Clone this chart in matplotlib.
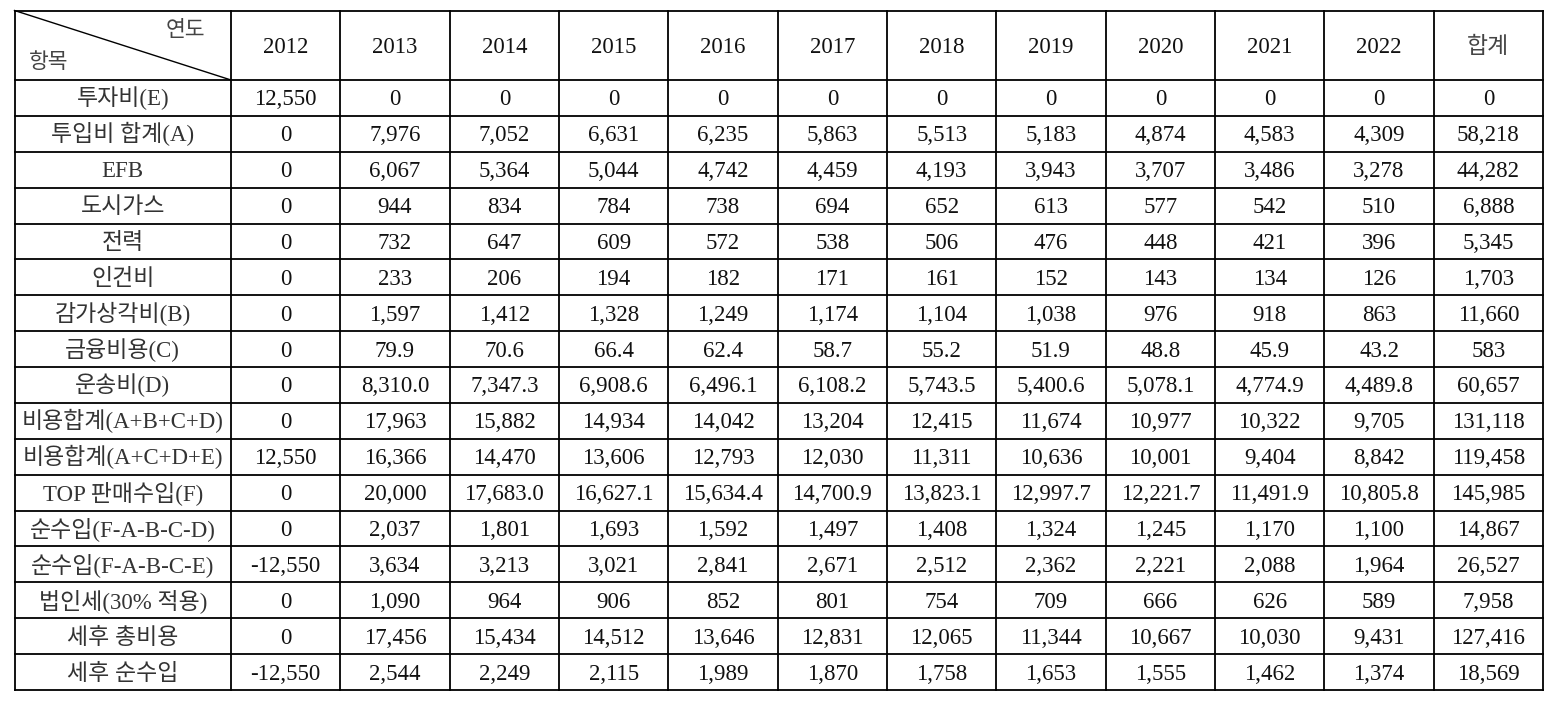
import matplotlib.pyplot as plt

# 연도 / 항목
years = ["2012", "2013", "2014", "2015", "2016", "2017", "2018", "2019",
         "2020", "2021", "2022", "합계"]
items = ["투자비(E)", "투입비 합계(A)", "EFB", "도시가스", "전력", "인건비",
         "감가상각비(B)", "금융비용(C)", "운송비(D)", "비용합계(A+B+C+D)",
         "비용합계(A+C+D+E)", "TOP 판매수입(F)", "순수입(F-A-B-C-D)",
         "순수입(F-A-B-C-E)", "법인세(30% 적용)", "세후 총비용", "세후 순수입"]

invest = ["12,550", "0", "0", "0", "0", "0", "0", "0", "0", "0", "0", "0"]
input_total = ["0", "7,976", "7,052", "6,631", "6,235", "5,863", "5,513", "5,183", "4,874", "4,583", "4,309", "58,218"]
efb = ["0", "6,067", "5,364", "5,044", "4,742", "4,459", "4,193", "3,943", "3,707", "3,486", "3,278", "44,282"]
city_gas = ["0", "944", "834", "784", "738", "694", "652", "613", "577", "542", "510", "6,888"]
power = ["0", "732", "647", "609", "572", "538", "506", "476", "448", "421", "396", "5,345"]
labor = ["0", "233", "206", "194", "182", "171", "161", "152", "143", "134", "126", "1,703"]
depreciation = ["0", "1,597", "1,412", "1,328", "1,249", "1,174", "1,104", "1,038", "976", "918", "863", "11,660"]
finance = ["0", "79.9", "70.6", "66.4", "62.4", "58.7", "55.2", "51.9", "48.8", "45.9", "43.2", "583"]
transport = ["0", "8,310.0", "7,347.3", "6,908.6", "6,496.1", "6,108.2", "5,743.5", "5,400.6", "5,078.1", "4,774.9", "4,489.8", "60,657"]
cost_abcd = ["0", "17,963", "15,882", "14,934", "14,042", "13,204", "12,415", "11,674", "10,977", "10,322", "9,705", "131,118"]
cost_acde = ["12,550", "16,366", "14,470", "13,606", "12,793", "12,030", "11,311", "10,636", "10,001", "9,404", "8,842", "119,458"]
revenue = ["0", "20,000", "17,683.0", "16,627.1", "15,634.4", "14,700.9", "13,823.1", "12,997.7", "12,221.7", "11,491.9", "10,805.8", "145,985"]
net_abcd = ["0", "2,037", "1,801", "1,693", "1,592", "1,497", "1,408", "1,324", "1,245", "1,170", "1,100", "14,867"]
net_abce = ["-12,550", "3,634", "3,213", "3,021", "2,841", "2,671", "2,512", "2,362", "2,221", "2,088", "1,964", "26,527"]
tax = ["0", "1,090", "964", "906", "852", "801", "754", "709", "666", "626", "589", "7,958"]
after_cost = ["0", "17,456", "15,434", "14,512", "13,646", "12,831", "12,065", "11,344", "10,667", "10,030", "9,431", "127,416"]
after_net = ["-12,550", "2,544", "2,249", "2,115", "1,989", "1,870", "1,758", "1,653", "1,555", "1,462", "1,374", "18,569"]

rows = [invest, input_total, efb, city_gas, power, labor, depreciation, finance,
        transport, cost_abcd, cost_acde, revenue, net_abcd, net_abce, tax,
        after_cost, after_net]

# 레이아웃 (픽셀 단위)
W, H = 1554, 702
left, right = 14.5, 1543
top, bottom = 10.5, 690
first_w = 231 - left
header_h = 80 - top
col_w = (right - 231) / len(years)
row_h = (bottom - 80) / len(rows)

fonts = ["Liberation Serif", "Noto Sans CJK KR"]
fs = 16.5
base_off = 7.5  # 셀 중앙에서 기준선까지
lw = 1.3

fig = plt.figure(figsize=(W / 100, H / 100), dpi=100)
ax = fig.add_axes([0, 0, 1, 1])
ax.set_xlim(0, W)
ax.set_ylim(H, 0)
ax.axis("off")

xs = [left, left + first_w] + [left + first_w + col_w * (i + 1) for i in range(len(years))]
ys = [top, top + header_h] + [top + header_h + row_h * (i + 1) for i in range(len(rows))]

for x in xs:
    ax.plot([x, x], [top, bottom], color="black", lw=lw)
for y in ys:
    ax.plot([left, right], [y, y], color="black", lw=lw)

# 대각선 헤더
ax.plot([left, left + first_w], [top, top + header_h], color="black", lw=1.0)
ax.text(left + first_w - 26, top + 26, "연도", ha="right", va="baseline",
        fontsize=fs - 1, family=fonts, color="#444444")
ax.text(left + 14, top + header_h - 12, "항목", ha="left", va="baseline",
        fontsize=fs - 1, family=fonts, color="#444444")


def cell_text(cx, cy, s, color):
    ax.text(cx, cy + base_off, s, ha="center", va="baseline",
            fontsize=fs, family=fonts, color=color)


for j, yr in enumerate(years):
    cx = (xs[j + 1] + xs[j + 2]) / 2
    cell_text(cx, (ys[0] + ys[1]) / 2, yr, "#111111" if yr != "합계" else "#444444")

for i, (name, vals) in enumerate(zip(items, rows)):
    cy = (ys[i + 1] + ys[i + 2]) / 2
    cell_text((xs[0] + xs[1]) / 2, cy, name, "#333333")
    for j, v in enumerate(vals):
        cx = (xs[j + 1] + xs[j + 2]) / 2
        cell_text(cx, cy, v, "#111111")

fig.savefig("out.png", dpi=100, facecolor="white")
